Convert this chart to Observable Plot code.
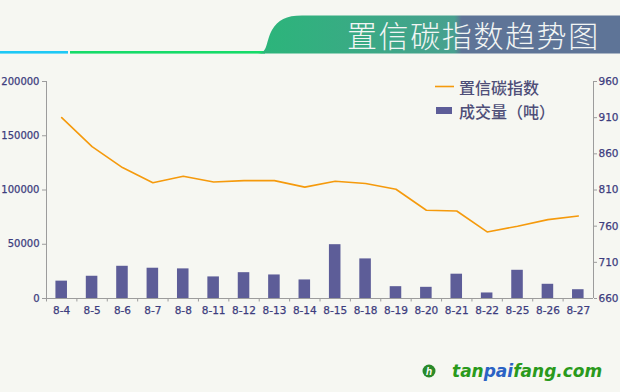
<!DOCTYPE html>
<html><head><meta charset="utf-8">
<script src="https://cdn.jsdelivr.net/npm/d3@7"></script>
<script src="https://cdn.jsdelivr.net/npm/@observablehq/plot@0.6"></script>
<style>
html,body{margin:0;padding:0;background:#f6f7f2;}
#wrap{position:relative;width:620px;height:392px;overflow:hidden;background:#f6f7f2;}
#chart{position:absolute;left:0;top:0;}
#chart svg text{stroke:#3d3d7e;stroke-width:0.25px;}
.abs{position:absolute;}
#title{position:absolute;left:347px;top:14px;font-family:"Noto Sans CJK SC";font-weight:300;font-size:30px;letter-spacing:1.6px;color:#f2f5f4;line-height:40px;white-space:nowrap;}
.leg{position:absolute;font-family:"Noto Sans CJK SC";font-weight:500;font-size:16px;color:#4e4e78;line-height:20px;white-space:nowrap;}
#wm{position:absolute;left:452px;top:360px;font-family:"DejaVu Sans";font-weight:bold;font-style:italic;font-size:17px;line-height:22px;color:#2a9a1c;white-space:nowrap;}
</style></head><body><div id="wrap">
<svg class="abs" style="left:0;top:0" width="620" height="60">
<defs><linearGradient id="bg" x1="260" x2="620" y1="0" y2="0" gradientUnits="userSpaceOnUse">
<stop offset="0" stop-color="#2bb57a"/><stop offset="0.54" stop-color="#48a08f"/><stop offset="0.56" stop-color="#5e7497"/><stop offset="1" stop-color="#5e7497"/></linearGradient></defs>
<rect x="0" y="51" width="68" height="2.6" fill="#1ec8f5"/>
<rect x="70" y="51" width="195" height="2.6" fill="#16db69"/>
<path d="M258,53.5 C268,53.5 266,40 272,30 C278,20 286,15.5 302,15.5 L620,15.5 L620,53.5 Z" fill="url(#bg)"/>
</svg>
<div id="title">置信碳指数趋势图</div>
<div id="chart"></div>
<svg class="abs" style="top:80px;left:430px" width="30" height="40">
<line x1="5" x2="24" y1="6.5" y2="6.5" stroke="#f59a0c" stroke-width="1.6"/>
<rect x="6" y="27" width="16" height="7" fill="#5d5d98"/>
</svg>
<div class="leg" style="left:459px;top:77px">置信碳指数</div>
<div class="leg" style="left:459px;top:101px">成交量（吨）</div>
<svg class="abs" style="left:422px;top:362px" width="20" height="20">
<circle cx="7" cy="9" r="6.5" fill="#2a8a2a"/>
<text x="7" y="13" text-anchor="middle" font-family="Liberation Sans" font-weight="bold" font-style="italic" font-size="10" fill="#fff">h</text>
</svg>
<div id="wm">tan<span style="color:#2a62c4">pai</span>fang.com</div>
</div>
<script>
const dates = ["8-4","8-5","8-6","8-7","8-8","8-11","8-12","8-13","8-14","8-15","8-18","8-19","8-20","8-21","8-22","8-25","8-26","8-27"];
const volume = [16000,20500,29700,27900,27300,19900,23800,21700,17100,49600,36500,10900,10300,22400,5100,26000,13100,8100];
const indexValues = [910,870,841,820,829,821,823,823,814,822,819,811,782,781,752,760,769,774];
const leftTicks = [0,50000,100000,150000,200000];
const rightTicks = [660,710,760,810,860,910,960];

const volMax = 200000, idxMin = 660, idxMax = 960;
const toY = v => (v - idxMin) / (idxMax - idxMin) * volMax;
const fromY = y => Math.round(idxMin + y / volMax * (idxMax - idxMin));

const W = 620, H = 392, ML = 46, MR = 27, MT = 81, MB = 94;
const step = (W - ML - MR) / dates.length;
const data = dates.map((d, i) => ({date: d, volume: volume[i], idx: indexValues[i], y: toY(indexValues[i])}));
const axisGrey = "#9c9c9c";
const textCol = "#3d3d7e";

const plot = Plot.plot({
  width: W, height: H,
  marginLeft: ML, marginRight: MR, marginTop: MT, marginBottom: MB,
  style: {background: "transparent", fontFamily: "DejaVu Sans", fontSize: "10.5px", color: textCol, overflow: "visible"},
  x: {type: "band", domain: dates, paddingInner: 0.62, paddingOuter: 0.31, round: false},
  y: {domain: [0, volMax]},
  marks: [
    Plot.barY(data, {x: "date", y: "volume", fill: "#5d5d98"}),
    Plot.ruleX(dates, {x: d => d, dx: -step / 2, y1: 0, y2: -3200, stroke: axisGrey}),
    Plot.ruleX([dates[0]], {x: d => d, dx: -step / 2, y1: 0, y2: volMax, stroke: axisGrey}),
    Plot.ruleX([dates[dates.length - 1]], {x: d => d, dx: step / 2, y1: 0, y2: volMax, stroke: axisGrey}),
    Plot.ruleY([0], {stroke: axisGrey}),
    Plot.line(data, {x: "date", y: "y", stroke: "#f59a0c", strokeWidth: 1.6}),
    Plot.axisX({tickSize: 0, tickPadding: 8, label: null, fill: textCol}),
    Plot.axisY({anchor: "left", ticks: leftTicks, tickSize: 4, tickPadding: 3, label: null, tickFormat: d => String(d), stroke: axisGrey, fill: textCol, fontSize: 10}),
    Plot.axisY({anchor: "right", ticks: rightTicks.map(toY), tickSize: 3, tickPadding: 2, label: null, tickFormat: fromY, stroke: axisGrey, fill: textCol, fontSize: 10.5})
  ]
});
document.getElementById("chart").appendChild(plot);
</script>
</body></html>
